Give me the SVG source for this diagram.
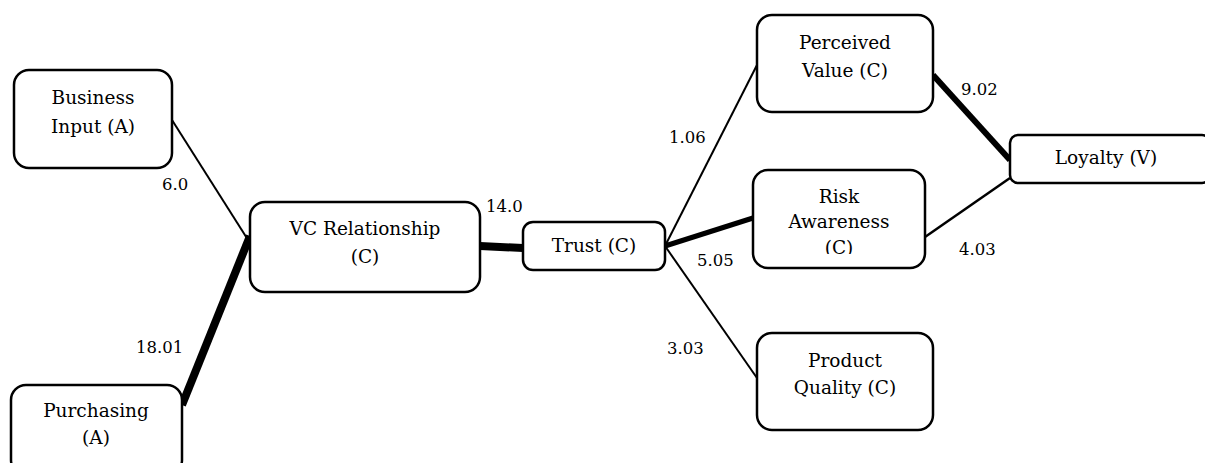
<svg xmlns="http://www.w3.org/2000/svg" width="1205" height="463" viewBox="0 0 1205 463">
<style>
.box{fill:#fff;stroke:#000;stroke-width:2.5}
.t{font-family:"DejaVu Serif","Liberation Serif",serif;font-size:18.5px;fill:#000;text-anchor:middle}
.n{font-family:"DejaVu Serif","Liberation Serif",serif;font-size:16.5px;fill:#000}
.c{stroke:#000;fill:none}
</style>
<defs>
<clipPath id="clipRisk"><rect x="753" y="170" width="172" height="84"/></clipPath>
</defs>
<rect width="1205" height="463" fill="#fff"/>
<g id="connectors">
<line class="c" x1="172" y1="120" x2="250" y2="243" stroke-width="2"/>
<line class="c" x1="182" y1="405" x2="250" y2="236" stroke-width="8"/>
<line class="c" x1="480" y1="246" x2="523" y2="248" stroke-width="8"/>
<line class="c" x1="665" y1="246" x2="757" y2="65" stroke-width="2"/>
<line class="c" x1="665" y1="246" x2="753" y2="218" stroke-width="5"/>
<line class="c" x1="665" y1="246" x2="757" y2="378" stroke-width="2"/>
<line class="c" x1="933" y1="75" x2="1010" y2="160" stroke-width="6"/>
<line class="c" x1="925" y1="237" x2="1010" y2="178" stroke-width="2.5"/>
<text class="n" x="162" y="190">6.0</text>
<text class="n" x="136" y="353">18.01</text>
<text class="n" x="486" y="212">14.0</text>
<text class="n" x="669" y="143">1.06</text>
<text class="n" x="697" y="266">5.05</text>
<text class="n" x="667" y="354">3.03</text>
<text class="n" x="961" y="95">9.02</text>
<text class="n" x="959" y="255">4.03</text>
</g>
<g id="business-input">
<rect class="box" x="14" y="70" width="158" height="98" rx="15"/>
<text class="t" x="93" y="104">Business</text>
<text class="t" x="93" y="133">Input (A)</text>
</g>
<g id="purchasing">
<rect class="box" x="11" y="385" width="171" height="90" rx="15"/>
<text class="t" x="96" y="417">Purchasing</text>
<text class="t" x="96" y="444">(A)</text>
</g>
<g id="vc-relationship">
<rect class="box" x="250" y="202" width="230" height="90" rx="15"/>
<text class="t" x="365" y="235">VC Relationship</text>
<text class="t" x="365" y="263">(C)</text>
</g>
<g id="trust">
<rect class="box" x="523" y="222" width="142" height="48" rx="10"/>
<text class="t" x="594" y="252">Trust (C)</text>
</g>
<g id="perceived-value">
<rect class="box" x="757" y="15" width="176" height="97" rx="15"/>
<text class="t" x="845" y="49">Perceived</text>
<text class="t" x="845" y="77">Value (C)</text>
</g>
<g id="risk-awareness">
<rect class="box" x="753" y="170" width="172" height="98" rx="15"/>
<g clip-path="url(#clipRisk)">
<text class="t" x="839" y="203">Risk</text>
<text class="t" x="839" y="228">Awareness</text>
<text class="t" x="839" y="254">(C)</text>
</g>
</g>
<g id="loyalty">
<rect class="box" x="1010" y="135" width="200" height="48" rx="8"/>
<text class="t" x="1106" y="164">Loyalty (V)</text>
</g>
<g id="product-quality">
<rect class="box" x="757" y="333" width="176" height="97" rx="15"/>
<text class="t" x="845" y="367">Product</text>
<text class="t" x="845" y="394">Quality (C)</text>
</g>
</svg>
